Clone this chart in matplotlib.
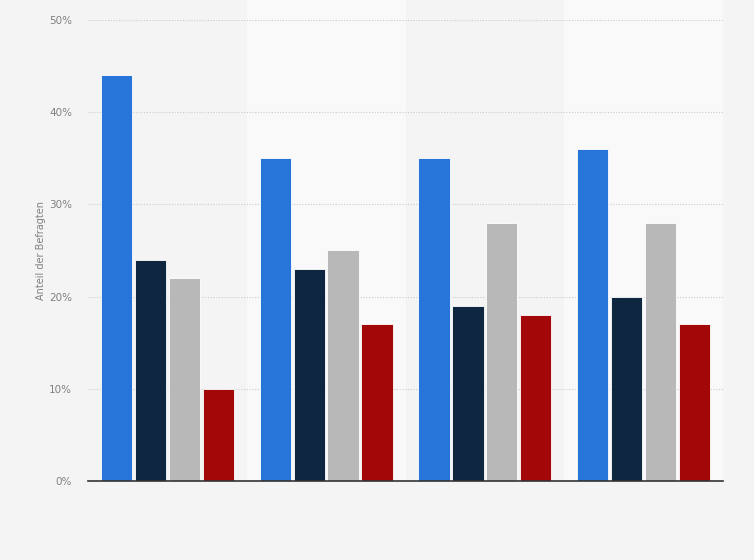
import matplotlib
matplotlib.use("Agg")
import matplotlib.pyplot as plt
import matplotlib.transforms as mtransforms
from matplotlib.patches import Rectangle
import numpy as np

groups = ["G1", "G2", "G3", "G4"]
series_names = ["S1", "S2", "S3", "S4"]
values = [
    [44, 35, 35, 36],
    [24, 23, 19, 20],
    [22, 25, 28, 28],
    [10, 17, 18, 17],
]
colors = ["#2775d9", "#0f2640", "#b8b8b8", "#a30808"]
yticks = [0, 10, 20, 30, 40, 50]
ytick_labels = ["0%", "10%", "20%", "30%", "40%", "50%"]

fig = plt.figure(figsize=(7.54, 5.6), dpi=100, facecolor="#f4f4f4")
ax = fig.add_axes([88/754, 1-481/560, (723-88)/754, (481-20)/560])
ax.set_facecolor("#f4f4f4")

x = np.arange(len(groups))
bw = 0.197
step = 0.214
trans = mtransforms.blended_transform_factory(ax.transData, fig.transFigure)
for i in range(len(groups)):
    if i % 2 == 1:
        r = Rectangle((i - 0.5, 1-481/560), 1.0, 481/560, transform=trans,
                      facecolor="#f9f9f9", edgecolor="none", zorder=0.1, clip_on=False)
        ax.add_patch(r)

for k, (vals, c) in enumerate(zip(values, colors)):
    ax.bar(x + (k - 1.5) * step, vals, width=bw, color=c, edgecolor="white",
           linewidth=0.6, zorder=3)

ax.set_xlim(-0.5, 3.5)
ax.set_ylim(0, 50)
ax.set_yticks(yticks)
ax.set_yticklabels(ytick_labels, fontsize=7.5, color="#808080")
ax.set_xticks([])
ax.grid(axis="y", color="#cccccc", linestyle=(0, (1, 1.5)), linewidth=0.8, zorder=1)
ax.set_axisbelow(True)
for s in ["top", "right", "left"]:
    ax.spines[s].set_visible(False)
ax.spines["bottom"].set_color("#333333")
ax.spines["bottom"].set_linewidth(1.2)
ax.spines["bottom"].set_zorder(4)
ax.tick_params(axis="y", length=0, pad=11.5)
ax.set_ylabel("Anteil der Befragten", fontsize=7, color="#808080", labelpad=2)

fig.savefig("out.png", dpi=100, facecolor=fig.get_facecolor())
